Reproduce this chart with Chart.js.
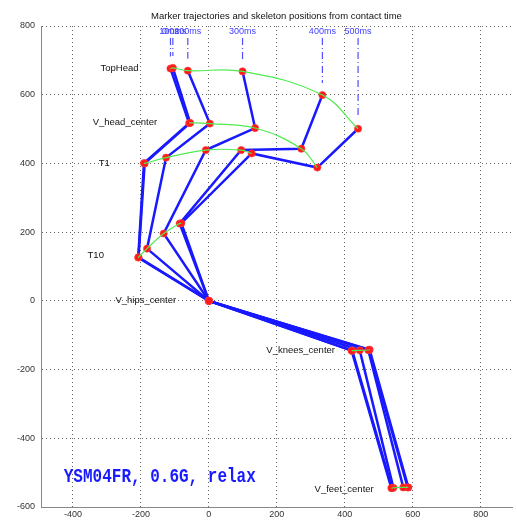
<!DOCTYPE html>
<html>
<head>
<meta charset="utf-8">
<script src="https://cdn.jsdelivr.net/npm/chart.js@4.4.0/dist/chart.umd.min.js"></script>
<style>
  html, body { margin: 0; padding: 0; background: #fff; overflow: hidden; }
  #chart { display: block; }
</style>
</head>
<body>
<canvas id="chart" width="517" height="527"></canvas>
<script>
// frames from contact time
var frames = ['0ms', '100ms', '200ms', '300ms', '400ms', '500ms'];

// joint positions per frame (mm)
var topHeadX = [-113, -106, -62, 99, 334, 439];
var topHeadY = [676, 678, 670, 668, 599, 501];
var headX = [-58, -55, 3, 136, 272, 319];
var headY = [517, 518, 516, 503, 443, 388];
var t1X = [-191, -189, -126, -9, 95, 126];
var t1Y = [401, 400, 417, 439, 439, 429];
var t10X = [-208, -207, -182, -133, -86, -81];
var t10Y = [126, 127, 152, 196, 225, 226];
var hipsX = [0, 0, 0, 0, 0, 0];
var hipsY = [0, 0, 0, 0, 0, 0];
var kneesX = [473, 471, 469, 444, 422, 420];
var kneesY = [-142, -143, -143, -144, -145, -145];
var feetX = [587, 585, 572, 543, 539, 537];
var feetY = [-543, -543, -543, -544, -545, -545];

var jointNames = ['TopHead', 'V_head_center', 'T1', 'T10', 'V_hips_center', 'V_knees_center', 'V_feet_center'];
var labelX = [-319, -342, -324, -357, -275, 169, 311];
var labelY = [676, 519, 400, 131, 0, -143, -548];

var xTicks = [-400, -200, 0, 200, 400, 600, 800];
var yTicks = [-600, -400, -200, 0, 200, 400, 600, 800];

var titleText = 'Marker trajectories and skeleton positions from contact time';
var noteText = 'YSM04FR, 0.6G, relax';

var joints = [
	{ x: topHeadX, y: topHeadY },
	{ x: headX, y: headY },
	{ x: t1X, y: t1Y },
	{ x: t10X, y: t10Y },
	{ x: hipsX, y: hipsY },
	{ x: kneesX, y: kneesY },
	{ x: feetX, y: feetY }
];

var SANS = '"Liberation Sans", Arial, sans-serif';
var datasets = [];

// green trajectories (on top)
joints.forEach(function (j, k) {
	datasets.push({
		data: j.x.map(function (v, i) { return { x: v, y: j.y[i] }; }),
		showLine: true,
		borderColor: 'rgb(80,235,80)',
		borderWidth: 1.2,
		pointRadius: 0,
		tension: k < 4 ? 0.4 : 0,
		order: 0
	});
});

// red joint markers
var markers = [];
joints.forEach(function (j) {
	j.x.forEach(function (v, i) { markers.push({ x: v, y: j.y[i] }); });
});
datasets.push({
	data: markers,
	showLine: false,
	pointRadius: 3.6,
	pointBackgroundColor: 'rgb(255,25,25)',
	pointBorderColor: 'rgba(255,60,60,0.6)',
	pointBorderWidth: 1,
	order: 1
});

// blue skeleton for every frame
frames.forEach(function (f, i) {
	datasets.push({
		data: joints.map(function (j) { return { x: j.x[i], y: j.y[i] }; }),
		showLine: true,
		borderColor: 'rgb(25,25,255)',
		borderWidth: 2.5,
		pointRadius: 0,
		tension: 0,
		order: 2
	});
});

// dash-dot time markers above the head
frames.forEach(function (f, i) {
	datasets.push({
		data: [{ x: topHeadX[i], y: 765 }, { x: topHeadX[i], y: topHeadY[i] + 35 }],
		showLine: true,
		borderColor: 'rgb(80,80,255)',
		borderWidth: 1.2,
		borderDash: [7, 3, 1, 3],
		pointRadius: 0,
		order: 3
	});
});

var textPlugin = {
	id: 'texts',
	afterDatasetsDraw: function (chart) {
		var ctx = chart.ctx, xs = chart.scales.x, ys = chart.scales.y, a = chart.chartArea;
		ctx.save();
		// title
		ctx.fillStyle = '#111';
		ctx.font = '9.5px ' + SANS;
		ctx.textAlign = 'center';
		ctx.textBaseline = 'middle';
		ctx.fillText(titleText, (a.left + a.right) / 2, 16);

		// time labels
		ctx.fillStyle = 'rgb(60,60,255)';
		ctx.font = '9px ' + SANS;
		frames.forEach(function (f, i) {
			ctx.fillText(f, xs.getPixelForValue(topHeadX[i]), ys.getPixelForValue(784));
		});

		// joint names
		ctx.fillStyle = '#111';
		ctx.font = '9.5px ' + SANS;
		ctx.textAlign = 'left';
		jointNames.forEach(function (n, i) {
			ctx.fillText(n, xs.getPixelForValue(labelX[i]), ys.getPixelForValue(labelY[i]));
		});

		// trial note
		ctx.fillStyle = 'rgb(25,25,255)';
		ctx.font = 'bold 16px "Liberation Mono", "DejaVu Sans Mono", monospace';
		ctx.translate(xs.getPixelForValue(-427), ys.getPixelForValue(-512));
		ctx.scale(1, 1.3);
		ctx.fillText(noteText, 0, 0);
		ctx.restore();
	}
};

var axisFont = { size: 9, family: SANS };

new Chart(document.getElementById('chart'), {
	type: 'scatter',
	data: { datasets: datasets },
	options: {
		responsive: false,
		animation: false,
		layout: { padding: { top: 26, right: 0, left: 0, bottom: 0 } },
		plugins: { legend: { display: false }, tooltip: { enabled: false }, title: { display: false } },
		scales: {
			x: {
				type: 'linear',
				min: -494,
				max: 892,
				afterBuildTicks: function (s) { s.ticks = xTicks.map(function (v) { return { value: v }; }); },
				afterFit: function (s) { s.height = 20; },
				grid: { color: '#666', lineWidth: 1, drawTicks: false },
				border: { display: true, color: '#888', width: 1, dash: [1, 3] },
				ticks: { color: '#333', font: axisFont, padding: 2, maxRotation: 0, autoSkip: false }
			},
			y: {
				type: 'linear',
				min: -600,
				max: 800,
				afterBuildTicks: function (s) { s.ticks = yTicks.map(function (v) { return { value: v }; }); },
				afterFit: function (s) { s.width = 41; },
				grid: { color: '#666', lineWidth: 1, drawTicks: false },
				border: { display: true, color: '#888', width: 1, dash: [1, 3] },
				ticks: { color: '#333', font: axisFont, padding: 6, autoSkip: false }
			}
		}
	},
	plugins: [textPlugin]
});
</script>
</body>
</html>
